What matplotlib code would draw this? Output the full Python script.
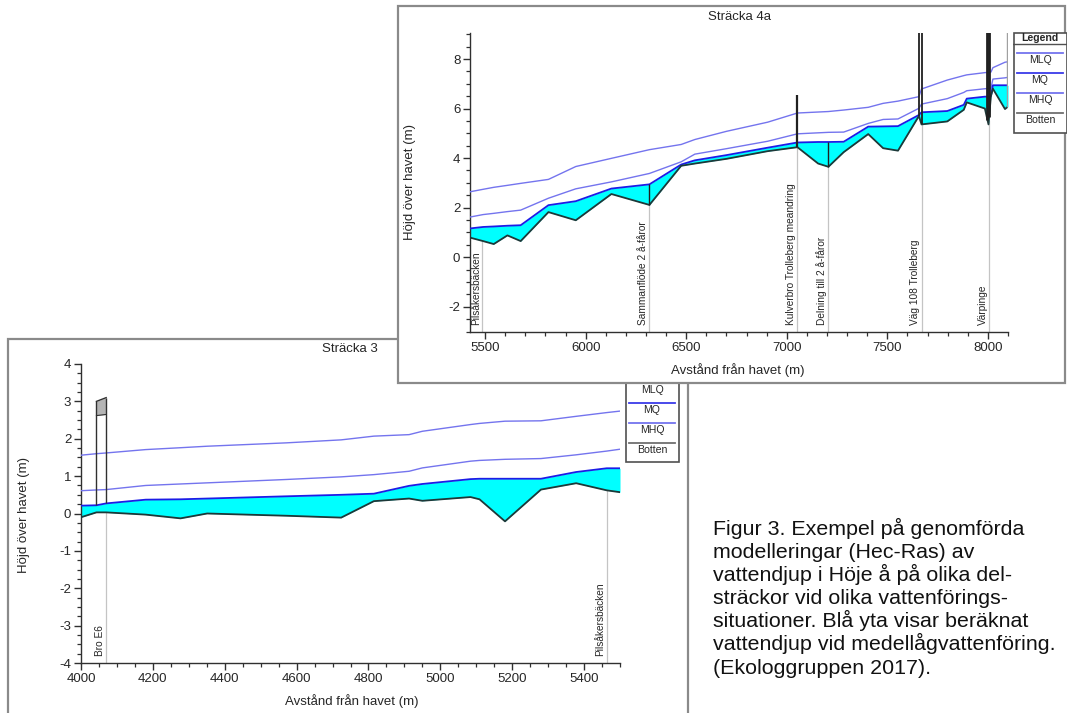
import numpy as np
import matplotlib
matplotlib.use("Agg")
import matplotlib.pyplot as plt
from matplotlib.patches import Rectangle
from matplotlib.ticker import MultipleLocator
from matplotlib.transforms import offset_copy

plt.rcParams['font.family'] = ['Liberation Sans', 'DejaVu Sans']
plt.rcParams['axes.unicode_minus'] = False

# ---------------- data: Sträcka 4a ----------------
st4 = [5425, 5490, 5543, 5611, 5677, 5815, 5951, 6128, 6317, 6475, 6543, 6700, 6905,
       7053, 7156, 7207, 7283, 7405, 7479, 7553, 7657, 7670, 7798, 7880, 7895, 7985,
       8003, 8015, 8025, 8085, 8100]
bed4 = [0.79, 0.65, 0.53, 0.88, 0.65, 1.82, 1.49, 2.55, 2.11, 3.69, 3.78, 3.97, 4.28,
        4.44, 3.78, 3.65, 4.24, 4.97, 4.40, 4.30, 5.70, 5.36, 5.48, 5.95, 6.25, 6.00,
        5.36, 6.50, 6.80, 5.98, 6.08]
mlq4 = [1.16, 1.22, 1.24, 1.27, 1.29, 2.10, 2.26, 2.77, 2.94, 3.74, 3.91, 4.12, 4.42,
        4.63, 4.65, 4.65, 4.66, 5.27, 5.28, 5.29, 5.74, 5.85, 5.90, 6.15, 6.40, 6.48,
        6.48, 6.50, 6.94, 6.94, 6.94]
mq4 = [1.62, 1.72, 1.77, 1.84, 1.90, 2.38, 2.76, 3.04, 3.38, 3.85, 4.16, 4.38, 4.68,
       4.98, 5.02, 5.04, 5.05, 5.40, 5.56, 5.58, 6.01, 6.18, 6.40, 6.65, 6.72, 6.80,
       6.81, 6.82, 7.19, 7.24, 7.26]
mhq4 = [2.64, 2.74, 2.82, 2.90, 2.98, 3.14, 3.66, 3.99, 4.34, 4.55, 4.75, 5.08, 5.45,
        5.82, 5.86, 5.88, 5.94, 6.05, 6.21, 6.30, 6.48, 6.79, 7.15, 7.33, 7.36, 7.45,
        7.46, 7.47, 7.65, 7.87, 7.89]
struct4_x = [6317, 7053, 7207, 7657, 7670, 7998, 8006]
struct4_top = [2.94, 6.55, 4.65, 9.6, 9.6, 9.6, 9.6]
struct4_lw = [1.0, 1.6, 1.0, 1.3, 1.3, 2.0, 2.0]
edge4_x = 8097
loc4_x = [5487, 6317, 7053, 7207, 7670, 8005]
loc4_names = ['Pilsåkersbäcken', 'Sammanflöde 2 å-fåror', 'Kulverbro Trolleberg meandring',
              'Delning till 2 å-fåror', 'Väg 108 Trolleberg', 'Värpinge']

# ---------------- data: Sträcka 3 ----------------
st3 = [4000, 4043, 4070, 4180, 4277, 4351, 4571, 4724, 4815, 4913, 4950, 5084, 5109,
       5180, 5280, 5378, 5463, 5500]
bed3 = [-0.10, 0.03, 0.03, -0.03, -0.13, 0.00, -0.06, -0.11, 0.33, 0.40, 0.34, 0.44, 0.38,
        -0.21, 0.64, 0.81, 0.62, 0.57]
mlq3 = [0.21, 0.22, 0.27, 0.37, 0.38, 0.40, 0.46, 0.50, 0.53, 0.74, 0.79, 0.92, 0.93,
        0.93, 0.93, 1.11, 1.21, 1.21]
mq3 = [0.61, 0.63, 0.64, 0.75, 0.79, 0.82, 0.91, 0.98, 1.04, 1.13, 1.22, 1.40, 1.42,
       1.45, 1.47, 1.57, 1.67, 1.72]
mhq3 = [1.56, 1.60, 1.62, 1.71, 1.76, 1.80, 1.89, 1.97, 2.07, 2.11, 2.20, 2.38, 2.41,
        2.47, 2.48, 2.60, 2.70, 2.74]
bridge3_x = [4043, 4070]
bridge3_low = [2.62, 2.65]
bridge3_top = [3.00, 3.10]
loc3_x = [4070, 5463]
loc3_names = ['Bro E6', 'Pilsåkersbäcken']

legend_labels = ['MLQ', 'MQ', 'MHQ', 'Botten']

caption_lines = ['Figur 3. Exempel på genomförda',
                 'modelleringar (Hec-Ras) av',
                 'vattendjup i Höje å på olika del-',
                 'sträckor vid olika vattenförings-',
                 'situationer. Blå yta visar beräknat',
                 'vattendjup vid medellågvattenföring.',
                 '(Ekologgruppen 2017).']

# ---------------- styling ----------------
W, H = 1067, 713
C_FILL = '#00ffff'
C_WS = '#1c1ce6'
C_Q = '#7474ee'
C_BED = '#1e3838'
C_FRAME = '#8a8a8a'
C_TXT = '#262626'
C_GRID = '#c4c4c4'

fig = plt.figure(figsize=(W / 100, H / 100), dpi=100)
fig.patch.set_facecolor('white')


def box(x0, y0, x1, y1):
    return [x0 / W, 1 - y1 / H, (x1 - x0) / W, (y1 - y0) / H]


def fpt(x, y):
    return x / W, 1 - y / H


def style_axes(ax, xmaj, xmin, ymaj, ymin):
    for s in ['top', 'right']:
        ax.spines[s].set_visible(False)
    for s in ['left', 'bottom']:
        ax.spines[s].set_color('#303030')
        ax.spines[s].set_linewidth(1.0)
    ax.xaxis.set_major_locator(MultipleLocator(xmaj))
    ax.xaxis.set_minor_locator(MultipleLocator(xmin))
    ax.yaxis.set_major_locator(MultipleLocator(ymaj))
    ax.yaxis.set_minor_locator(MultipleLocator(ymin))
    ax.tick_params(which='major', direction='out', length=5, width=1, color='#303030',
                   labelsize=9.5, labelcolor=C_TXT, pad=2)
    ax.tick_params(which='minor', direction='out', length=3, width=0.9, color='#303030')
    ax.patch.set_alpha(0)


def draw_profile(ax, st, bed, mlq, mq, mhq):
    ax.fill_between(st, bed, mlq, color=C_FILL, lw=0, zorder=2)
    ax.plot(st, mhq, color=C_Q, lw=1.0, zorder=3)
    ax.plot(st, mq, color=C_Q, lw=1.0, zorder=3)
    ax.plot(st, mlq, color=C_WS, lw=1.3, zorder=4)
    ax.plot(st, bed, color=C_BED, lw=1.3, zorder=5)


def draw_locations(ax, st, bed, xs, names, ybot, label_y):
    tr = offset_copy(ax.transData, fig=fig, x=-1.0, y=0, units='points')
    for x, name in zip(xs, names):
        top = np.interp(x, st, bed)
        ax.vlines(x, ybot, top, color=C_GRID, lw=0.9, zorder=1)
        ax.text(x, label_y, name, rotation=90, ha='right', va='bottom', fontsize=7.3,
                color=C_TXT, transform=tr, zorder=6)


def draw_legend(rect_px, zorder):
    x0, y0, x1, y1 = rect_px
    w, h = x1 - x0, y1 - y0
    lax = fig.add_axes(box(x0, y0, x1, y1), zorder=zorder)
    lax.set_xlim(0, w)
    lax.set_ylim(h, 0)
    lax.axis('off')
    lax.add_patch(Rectangle((0.5, 0.5), w - 1, h - 1, facecolor='white', edgecolor='#505050',
                            lw=1.2, clip_on=False))
    lax.text(w / 2, 6, 'Legend', ha='center', va='center', fontsize=7.6, fontweight='bold',
             color=C_TXT)
    lax.plot([0, w], [12, 12], color='#505050', lw=1.0)
    colors = [C_Q, '#3a3ae8', C_Q, '#707070']
    for i, (lab, c) in enumerate(zip(legend_labels, colors)):
        ly = 21 + 20 * i
        lax.plot([4, w - 4], [ly, ly], color=c, lw=1.3)
        lax.text(w / 2, ly + 7, lab, ha='center', va='center', fontsize=7.6, color=C_TXT)
    return lax


# ---------------- Sträcka 3 (bottom-left chart) ----------------
fig.add_artist(Rectangle((8 / W, -0.05), (688 - 8) / W, (1 - 339 / H) + 0.05,
                         transform=fig.transFigure, facecolor='white', edgecolor=C_FRAME,
                         lw=1.6, zorder=0.5, clip_on=False))

ax3 = fig.add_axes(box(81, 364, 620, 663), zorder=1)
style_axes(ax3, 200, 50, 1, 0.25)
ax3.set_xlim(4000, 5500)
ax3.set_ylim(-4, 4)
draw_profile(ax3, st3, bed3, mlq3, mq3, mhq3)
ax3.fill_between(bridge3_x, bridge3_low, bridge3_top, color='#b4b4b4', lw=0, zorder=6)
ax3.plot(bridge3_x, bridge3_top, color='#303030', lw=1.0, zorder=7)
ax3.plot(bridge3_x, bridge3_low, color='#303030', lw=0.8, zorder=7)
for bx, bt in zip(bridge3_x, bridge3_top):
    ax3.vlines(bx, np.interp(bx, st3, mlq3), bt, color='#303030', lw=1.0, zorder=7)
draw_locations(ax3, st3, bed3, loc3_x, loc3_names, -4, -3.82)

fig.text(*fpt(350, 349), 'Sträcka 3', ha='center', va='center', fontsize=9.5, color=C_TXT,
         zorder=1.2)
fig.text(*fpt(24, 515), 'Höjd över havet (m)', rotation=90, ha='center', va='center',
         fontsize=9.5, color=C_TXT, zorder=1.2)
fig.text(*fpt(352, 701), 'Avstånd från havet (m)', ha='center', va='center',
         fontsize=9.5, color=C_TXT, zorder=1.2)

draw_legend((625, 362, 679, 462), 1.5)

# ---------------- Sträcka 4a (top-right chart) ----------------
fig.add_artist(Rectangle((398 / W, 1 - 383 / H), (1065 - 398) / W, (383 - 6) / H,
                         transform=fig.transFigure, facecolor='white', edgecolor=C_FRAME,
                         lw=1.6, zorder=2))

ax4 = fig.add_axes(box(470, 33, 1008, 332), zorder=3)
style_axes(ax4, 500, 100, 2, 0.5)
ax4.set_xlim(5425, 8100)
ax4.set_ylim(-3.02, 9.05)
draw_profile(ax4, st4, bed4, mlq4, mq4, mhq4)
draw_locations(ax4, st4, bed4, loc4_x, loc4_names, -3.02, -2.75)
for sx, stp, slw in zip(struct4_x, struct4_top, struct4_lw):
    ax4.vlines(sx, np.interp(sx, st4, bed4), stp, color='#202020', lw=slw, zorder=7)
ax4.vlines(edge4_x, np.interp(edge4_x, st4, bed4), 9.6, color='#a0a0a0', lw=1.0, zorder=7)

fig.text(*fpt(739, 17), 'Sträcka 4a', ha='center', va='center', fontsize=9.5, color=C_TXT,
         zorder=4)
fig.text(*fpt(410, 182), 'Höjd över havet (m)', rotation=90, ha='center', va='center',
         fontsize=9.5, color=C_TXT, zorder=4)
fig.text(*fpt(738, 370), 'Avstånd från havet (m)', ha='center', va='center',
         fontsize=9.5, color=C_TXT, zorder=4)

draw_legend((1013, 32, 1067, 133), 4)

# ---------------- caption ----------------
for i, line in enumerate(caption_lines):
    fig.text(*fpt(713, 535 + 23.1 * i), line, ha='left', va='baseline', fontsize=15.4,
             color='#111111', zorder=1)

fig.savefig('out.png', dpi=100, facecolor='white')
